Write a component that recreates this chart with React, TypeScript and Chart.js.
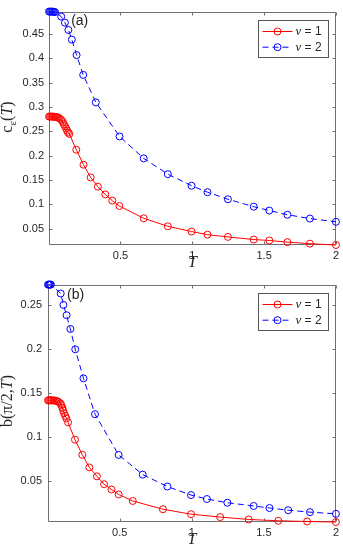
import React, { useEffect, useRef } from "react";
import { Chart, registerables } from "chart.js";

Chart.register(...registerables);

// ---------------- data ----------------
// panel (a): c_eps(T)
const topRedT = [0.003, 0.01, 0.017, 0.024, 0.031, 0.038, 0.045, 0.052, 0.059, 0.069, 0.078, 0.088, 0.099, 0.106, 0.115, 0.122, 0.129, 0.136, 0.145, 0.193, 0.243, 0.293, 0.343, 0.395, 0.443, 0.493, 0.662, 0.83, 0.995, 1.106, 1.248, 1.428, 1.536, 1.662, 1.819, 2.0];
const topRedV = [0.2805, 0.2805, 0.2805, 0.2805, 0.2804, 0.2803, 0.2801, 0.2798, 0.2793, 0.278, 0.2762, 0.274, 0.2694, 0.2647, 0.2607, 0.2561, 0.2516, 0.2476, 0.2448, 0.2125, 0.1817, 0.1555, 0.1365, 0.1206, 0.1079, 0.0968, 0.0716, 0.0551, 0.0444, 0.0379, 0.0333, 0.0279, 0.026, 0.0226, 0.0194, 0.0167];
const topBlueT = [0.003, 0.01, 0.017, 0.024, 0.031, 0.038, 0.045, 0.088, 0.114, 0.138, 0.162, 0.195, 0.241, 0.329, 0.494, 0.662, 0.83, 0.995, 1.106, 1.248, 1.428, 1.536, 1.662, 1.819, 2.0];
const topBlueV = [0.4962, 0.4962, 0.4962, 0.4962, 0.4961, 0.4958, 0.4952, 0.486, 0.4734, 0.4585, 0.4387, 0.4069, 0.3662, 0.3097, 0.2397, 0.1946, 0.1623, 0.1385, 0.1252, 0.1107, 0.0954, 0.0875, 0.0789, 0.071, 0.0643];

// panel (b): b(pi/2, T)
const botRedT = [0.003, 0.01, 0.017, 0.024, 0.031, 0.041, 0.05, 0.06, 0.069, 0.077, 0.089, 0.096, 0.103, 0.108, 0.114, 0.123, 0.13, 0.142, 0.19, 0.241, 0.29, 0.342, 0.392, 0.443, 0.493, 0.591, 0.8, 0.995, 1.197, 1.395, 1.6, 1.8, 2.0];
const botRedV = [0.1416, 0.1416, 0.1416, 0.1416, 0.1416, 0.1415, 0.1414, 0.141, 0.1404, 0.1397, 0.1382, 0.136, 0.133, 0.1301, 0.127, 0.124, 0.1211, 0.1166, 0.097, 0.0797, 0.0654, 0.0553, 0.0463, 0.0404, 0.0347, 0.0273, 0.0179, 0.0123, 0.009, 0.0063, 0.0048, 0.004, 0.0034];
const botBlueT = [0.003, 0.008, 0.013, 0.018, 0.023, 0.091, 0.11, 0.132, 0.158, 0.192, 0.249, 0.329, 0.493, 0.66, 0.831, 0.995, 1.105, 1.247, 1.429, 1.539, 1.669, 1.82, 2.0];
const botBlueV = [0.2731, 0.2731, 0.2731, 0.2731, 0.2731, 0.263, 0.25, 0.2383, 0.2227, 0.1996, 0.1666, 0.1259, 0.0796, 0.0572, 0.0437, 0.034, 0.0295, 0.0253, 0.0216, 0.0193, 0.0168, 0.0146, 0.0127];

const xTickValues = [0.5, 1, 1.5, 2];
const topYTickValues = [0.05, 0.1, 0.15, 0.2, 0.25, 0.3, 0.35, 0.4, 0.45];
const botYTickValues = [0.05, 0.1, 0.15, 0.2, 0.25];
const nuValues = [1, 2];
const seriesColors = ["#ff0000", "#0000ff"];
const seriesDash: number[][] = [[], [6, 4]];
const panelTags = ["(a)", "(b)"];
// tag anchor positions in data units [T, value]
const topTagPos = [0.157, 0.4764];
const botTagPos = [0.135, 0.261];

const TEXT_COLOR = "#262626";
const AXIS_COLOR = "#707070";
const SANS = "'Liberation Sans', Arial, sans-serif";
const SERIF = "'Liberation Serif', 'Times New Roman', serif";

type Part = { t: string; font: string; dy?: number };

const topYLabel: Part[] = [
  { t: "c", font: `16px ${SERIF}` },
  { t: "ε", font: `11px ${SERIF}`, dy: 4 },
  { t: "(", font: `16px ${SERIF}` },
  { t: "T", font: `italic 16px ${SERIF}` },
  { t: ")", font: `16px ${SERIF}` },
];
const botYLabel: Part[] = [
  { t: "b(", font: `16px ${SERIF}` },
  { t: "π", font: `16px ${SERIF}` },
  { t: "/2,", font: `16px ${SERIF}` },
  { t: "T", font: `italic 16px ${SERIF}` },
  { t: ")", font: `16px ${SERIF}` },
];

const fmt = (v: number) => String(+Number(v).toFixed(3));

const decoPlugin = {
  id: "panelDeco",
  beforeDatasetsDraw(chart: any, _args: any, opts: any) {
    const { ctx, chartArea: a } = chart;
    const xs = chart.scales.x;
    const ys = chart.scales.y;
    ctx.save();
    ctx.strokeStyle = AXIS_COLOR;
    ctx.lineWidth = 1;
    const L = Math.round(a.left) + 0.5;
    const R = Math.round(a.right) - 0.5;
    const T = Math.round(a.top) + 0.5;
    const B = Math.round(a.bottom) - 0.5;
    ctx.beginPath();
    ctx.rect(L, T, R - L, B - T);
    const tl = 3;
    for (const v of xTickValues) {
      const px = Math.round(xs.getPixelForValue(v)) + 0.5;
      ctx.moveTo(px, B);
      ctx.lineTo(px, B - tl);
      ctx.moveTo(px, T);
      ctx.lineTo(px, T + tl);
    }
    for (const v of opts.yTicks as number[]) {
      const py = Math.round(ys.getPixelForValue(v)) + 0.5;
      ctx.moveTo(L, py);
      ctx.lineTo(L + tl, py);
      ctx.moveTo(R, py);
      ctx.lineTo(R - tl, py);
    }
    ctx.stroke();
    ctx.restore();
  },
  afterDraw(chart: any, _args: any, opts: any) {
    const { ctx, chartArea: a } = chart;
    const xs = chart.scales.x;
    const ys = chart.scales.y;
    ctx.save();
    // y label (rotated, with sub parts)
    const parts: Part[] = opts.yLabel;
    let total = 0;
    const widths = parts.map((p) => {
      ctx.font = p.font;
      const w = ctx.measureText(p.t).width;
      total += w;
      return w;
    });
    ctx.translate(opts.yLabelX, opts.yLabelY);
    ctx.rotate(-Math.PI / 2);
    ctx.fillStyle = TEXT_COLOR;
    ctx.textBaseline = "alphabetic";
    ctx.textAlign = "left";
    let cx = -total / 2;
    parts.forEach((p, i) => {
      ctx.font = p.font;
      ctx.fillText(p.t, cx, p.dy || 0);
      cx += widths[i];
    });
    ctx.restore();

    // panel tag
    ctx.save();
    ctx.fillStyle = TEXT_COLOR;
    ctx.font = `14px ${SANS}`;
    ctx.textBaseline = "middle";
    ctx.textAlign = "left";
    ctx.fillText(opts.tag, xs.getPixelForValue(opts.tagPos[0]), ys.getPixelForValue(opts.tagPos[1]));
    ctx.restore();

    // legend
    ctx.save();
    const boxW = 70;
    const boxH = 37;
    const bx = Math.round(a.right - 8 - boxW) + 0.5;
    const by = Math.round(a.top + 8) + 0.5;
    ctx.fillStyle = "#ffffff";
    ctx.fillRect(bx, by, boxW, boxH);
    ctx.strokeStyle = "#555555";
    ctx.lineWidth = 1;
    ctx.strokeRect(bx, by, boxW, boxH);
    chart.data.datasets.forEach((ds: any, i: number) => {
      const ry = by + 11 + i * 15.7;
      ctx.strokeStyle = ds.borderColor;
      ctx.lineWidth = 1;
      ctx.setLineDash(ds.borderDash || []);
      ctx.beginPath();
      ctx.moveTo(bx + 4, ry);
      ctx.lineTo(bx + 34, ry);
      ctx.stroke();
      ctx.setLineDash([]);
      ctx.beginPath();
      ctx.arc(bx + 19, ry, 3.5, 0, Math.PI * 2);
      ctx.stroke();
      ctx.fillStyle = TEXT_COLOR;
      ctx.textBaseline = "middle";
      ctx.textAlign = "left";
      ctx.font = `italic 13px ${SERIF}`;
      ctx.fillText("ν", bx + 37, ry);
      const w = ctx.measureText("ν").width;
      ctx.font = `12px ${SANS}`;
      ctx.fillText(" = " + nuValues[i], bx + 37 + w, ry + 0.5);
    });
    ctx.restore();
  },
};

function makeConfig(p: {
  redT: number[];
  redV: number[];
  blueT: number[];
  blueV: number[];
  yTicks: number[];
  yWidth: number;
  yPad: number;
  padTop: number;
  xAxisH: number;
  titlePad: number;
  yLabel: Part[];
  yLabelX: number;
  yLabelY: number;
  tag: string;
  tagPos: number[];
}) {
  const allT = [...p.redT, ...p.blueT];
  const allV = [...p.redV, ...p.blueV];
  const mkDs = (T: number[], V: number[], i: number) => ({
    label: "ν = " + nuValues[i],
    data: T.map((t, k) => ({ x: t, y: V[k] })),
    borderColor: seriesColors[i],
    borderWidth: 1,
    borderDash: seriesDash[i],
    pointRadius: 3.5,
    pointHoverRadius: 3.5,
    pointBorderWidth: 1,
    pointBorderColor: seriesColors[i],
    pointBackgroundColor: "rgba(0,0,0,0)",
    backgroundColor: "rgba(0,0,0,0)",
    tension: 0,
    fill: false,
    clip: false as any,
  });
  return {
    type: "line" as const,
    data: { datasets: [mkDs(p.redT, p.redV, 0), mkDs(p.blueT, p.blueV, 1)] },
    options: {
      responsive: false,
      animation: false as const,
      devicePixelRatio: 1,
      events: [],
      layout: { padding: { top: p.padTop, right: 4, left: 0, bottom: 0 } },
      plugins: {
        legend: { display: false },
        tooltip: { enabled: false },
        panelDeco: {
          yTicks: p.yTicks,
          yLabel: p.yLabel,
          yLabelX: p.yLabelX,
          yLabelY: p.yLabelY,
          tag: p.tag,
          tagPos: p.tagPos,
        },
      },
      scales: {
        x: {
          type: "linear" as const,
          min: Math.min(...allT),
          max: Math.max(...allT),
          afterBuildTicks: (s: any) => {
            s.ticks = xTickValues.map((v) => ({ value: v }));
          },
          afterFit: (s: any) => {
            s.height = p.xAxisH;
          },
          grid: { display: false, drawTicks: false },
          border: { display: false },
          ticks: {
            padding: 4,
            autoSkip: false,
            maxRotation: 0,
            color: TEXT_COLOR,
            font: { family: SANS, size: 11 },
            callback: (v: any) => fmt(v),
          },
          title: {
            display: true,
            text: "T",
            color: TEXT_COLOR,
            font: { family: SERIF, style: "italic" as const, size: 16, lineHeight: 1.2 },
            padding: { top: 0, bottom: p.titlePad },
          },
        },
        y: {
          type: "linear" as const,
          min: Math.min(...allV),
          max: Math.max(...allV),
          afterBuildTicks: (s: any) => {
            s.ticks = p.yTicks.map((v) => ({ value: v }));
          },
          afterFit: (s: any) => {
            s.width = p.yWidth;
          },
          grid: { display: false, drawTicks: false },
          border: { display: false },
          ticks: {
            padding: p.yPad,
            autoSkip: false,
            color: TEXT_COLOR,
            font: { family: SANS, size: 11 },
            callback: (v: any) => fmt(v),
          },
        },
      },
    },
    plugins: [decoPlugin],
  };
}

export default function App() {
  const topRef = useRef<HTMLCanvasElement>(null);
  const botRef = useRef<HTMLCanvasElement>(null);

  useEffect(() => {
    const c1 = new Chart(
      topRef.current as HTMLCanvasElement,
      makeConfig({
        redT: topRedT,
        redV: topRedV,
        blueT: topBlueT,
        blueV: topBlueV,
        yTicks: topYTickValues,
        yWidth: 49,
        yPad: 5,
        padTop: 4,
        xAxisH: 27,
        titlePad: 0,
        yLabel: topYLabel,
        yLabelX: 12,
        yLabelY: 117,
        tag: panelTags[0],
        tagPos: topTagPos,
      }) as any
    );
    const c2 = new Chart(
      botRef.current as HTMLCanvasElement,
      makeConfig({
        redT: botRedT,
        redV: botRedV,
        blueT: botBlueT,
        blueV: botBlueV,
        yTicks: botYTickValues,
        yWidth: 48,
        yPad: 6,
        padTop: 10,
        xAxisH: 33,
        titlePad: 6,
        yLabel: botYLabel,
        yLabelX: 12,
        yLabelY: 401 - 272,
        tag: panelTags[1],
        tagPos: botTagPos,
      }) as any
    );
    return () => {
      c1.destroy();
      c2.destroy();
    };
  }, []);

  return (
    <div style={{ position: "absolute", left: 0, top: 0, width: 343, height: 555, background: "#ffffff" }}>
      <canvas ref={topRef} width={343} height={272} style={{ position: "absolute", left: 0, top: 0, width: 343, height: 272 }} />
      <canvas ref={botRef} width={343} height={283} style={{ position: "absolute", left: 0, top: 272, width: 343, height: 283 }} />
    </div>
  );
}
